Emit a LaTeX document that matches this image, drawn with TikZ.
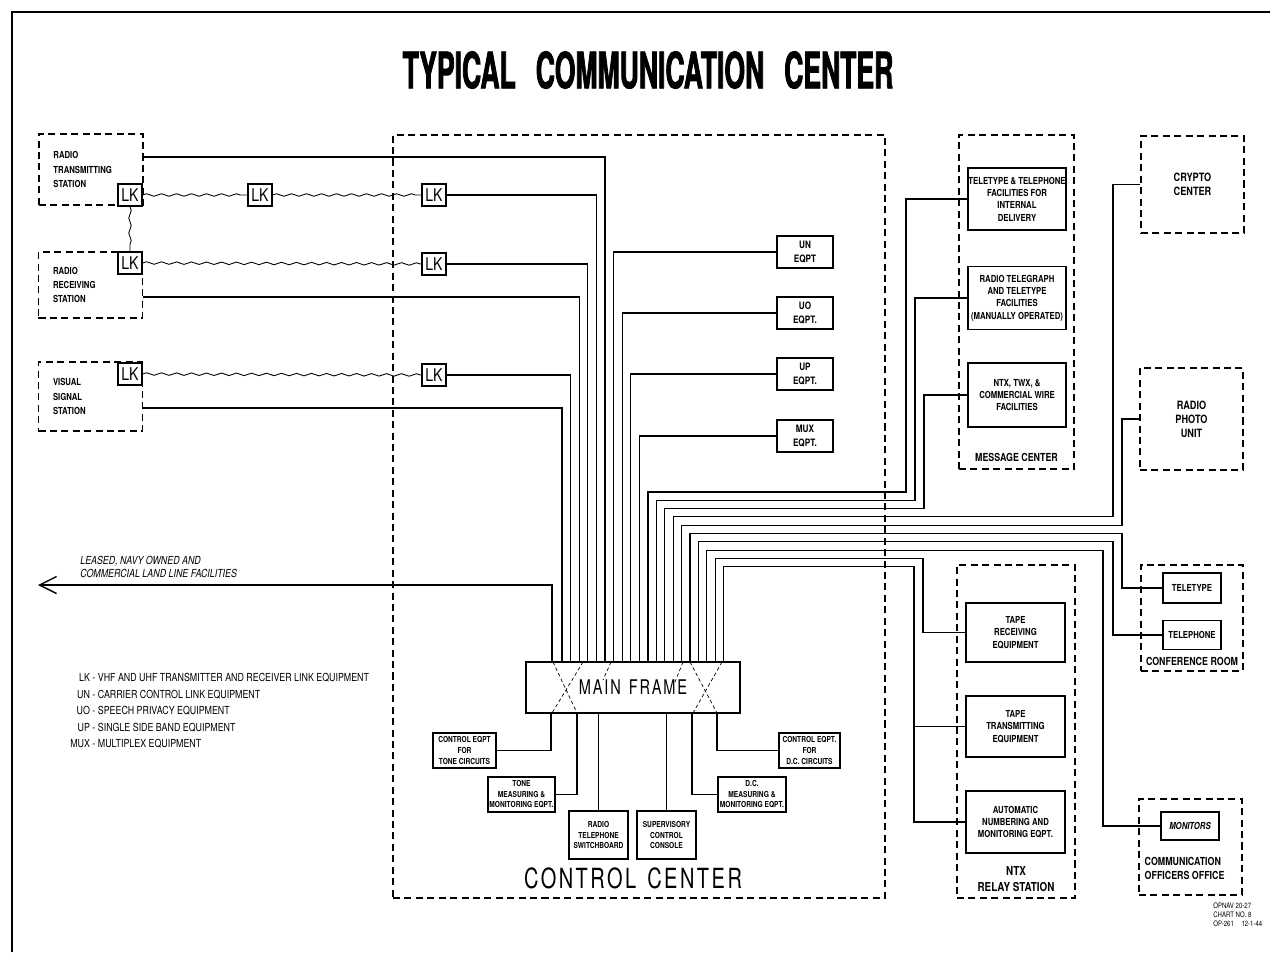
\documentclass[tikz,border=0pt]{standalone}
\usepackage{fontspec}
\usetikzlibrary{arrows.meta,positioning,calc,decorations.pathmorphing}
\newfontfamily\letterfont{TeX Gyre Heros}[FakeStretch=0.8]
\newfontfamily\spacedfont{TeX Gyre Heros}[FakeStretch=0.72,LetterSpace=9]
\newfontfamily\headfont{TeX Gyre Heros}[FakeStretch=0.53,FakeBold=1.5]

\begin{document}
\begin{tikzpicture}[
  x=0.2mm, y=-0.2mm,
  wire/.style={line width=0.6pt},
  radiolink/.style={line width=0.5pt, decorate,
    decoration={zigzag, segment length=3mm, amplitude=0.25mm}},
  xconn/.style={line width=0.4pt, dash pattern=on 2pt off 1.5pt},
  zone/.style={draw, dash pattern=on 4pt off 2.5pt, line width=0.7pt,
    inner sep=0pt, align=center, font=\letterfont\bfseries\fontsize{6.5}{8}\selectfont},
  stationbox/.style={zone, align=left, text width=15mm, minimum width=20.8mm,
    font=\letterfont\bfseries\fontsize{5.5}{8}\selectfont},
  eqpt/.style={draw, line width=0.9pt, fill=white, inner sep=0pt, align=center,
    font=\letterfont\bfseries\fontsize{5.5}{7}\selectfont},
  eqptbox/.style={eqpt, minimum width=11.2mm, minimum height=6.4mm,
    font=\letterfont\bfseries\fontsize{5.8}{7.5}\selectfont},
  minorbox/.style={eqpt, font=\letterfont\bfseries\fontsize{4.7}{6}\selectfont},
  lkbox/.style={draw, line width=0.9pt, fill=white, inner sep=0pt,
    minimum width=4.8mm, minimum height=4.4mm, font=\letterfont\fontsize{10}{10}\selectfont},
  zonetext/.style={inner sep=0pt, align=center, font=\letterfont\bfseries\fontsize{6.3}{8}\selectfont},
]
  \useasboundingbox (0,0) rectangle (1270,952);

  % sheet border and title
  \draw[line width=1.2pt] (12,952) -- (12,12) -- (1270,12);
  \node[inner sep=0pt, font=\headfont\bfseries\fontsize{28.5}{30}\selectfont] (title) at (648,70)
    {TYPICAL\hspace{4mm}COMMUNICATION\hspace{4mm}CENTER};

  % outlying stations
  \node[stationbox, minimum height=14.2mm] (txst) at (91,169.5) {RADIO\\TRANSMITTING\\STATION};
  \node[stationbox, minimum height=13.2mm] (rxst) at (90.5,285) {RADIO\\RECEIVING\\STATION};
  \node[stationbox, minimum height=13.8mm] (vsst) at (90.5,396.5) {VISUAL\\SIGNAL\\STATION};
  \coordinate (txout) at ([yshift=2.5mm]txst.east);
  \coordinate (rxout) at ([yshift=-2.4mm]rxst.east);
  \coordinate (vsout) at ([yshift=-2.3mm]vsst.east);

  % control center
  \node[zone, minimum width=98.4mm, minimum height=152.6mm] (ctrl) at (639,516.5) {};
  \node[inner sep=0pt, font=\spacedfont\fontsize{15.8}{16}\selectfont] (ctrllbl) at (633,878) {CONTROL\hspace{2.2mm}CENTER};

  % link equipment
  \node[lkbox] (lka) at (130,195) {LK};
  \node[lkbox] (lkb) at (260,195) {LK};
  \node[lkbox] (lkc) at (434,195) {LK};
  \node[lkbox] (lkd) at (130,263) {LK};
  \node[lkbox] (lke) at (434,264) {LK};
  \node[lkbox] (lkf) at (130,374) {LK};
  \node[lkbox] (lkg) at (434,375) {LK};

  \draw[radiolink] (lka.east) -- (lkb.west);
  \draw[radiolink] (lkb.east) -- (lkc.west);
  \draw[radiolink] (lka.south) -- (lkd.north);
  \draw[radiolink] (lkd.east) -- (lke.west);
  \draw[radiolink] (lkf.east) -- (lkg.west);

  % carrier equipment
  \node[eqptbox] (un)  at (805,252) {UN\\EQPT};
  \node[eqptbox] (uo)  at (805,313) {UO\\EQPT.};
  \node[eqptbox] (up)  at (805,374) {UP\\EQPT.};
  \node[eqptbox] (mux) at (805,436) {MUX\\EQPT.};

  % main frame
  \node[eqpt, minimum width=42.8mm, minimum height=10.2mm,
    font=\spacedfont\fontsize{11.5}{12}\selectfont] (mframe) at (633,687.5) {MAIN\hspace{1.6mm}FRAME};
  \draw[xconn] (553,662) -- (577,713);
  \draw[xconn] (583,662) -- (552,713);
  \draw[xconn] (611,662) -- (603,680);
  \draw[xconn] (690,662) -- (717,713);
  \draw[xconn] (722,662) -- (693,713);
  \draw[xconn] (683,662) -- (675,682);

  \foreach \i in {0,...,9} {
    \coordinate (L\i) at (562+8.6*\i,662);
    \coordinate (R\i) at (648+8.4*\i,662);
  }

  % lines into the main frame from the left
  \draw[wire] (vsout) -| (L0);
  \draw[wire] (lkg.east) -| (L1);
  \draw[wire] (rxout) -| (L2);
  \draw[wire] (lke.east) -| (L3);
  \draw[wire] (lkc.east) -| (L4);
  \draw[wire] (txout) -| (L5);
  \draw[wire] (un.west) -| (L6);
  \draw[wire] (uo.west) -| (L7);
  \draw[wire] (up.west) -| (L8);
  \draw[wire] (mux.west) -| (L9);

  % leased lines
  \coordinate (lease) at (552,662);
  \coordinate (leaseend) at (38,585);
  \draw[wire, -{Straight Barb[length=3.4mm, width=3.4mm, line width=0.8pt]}] (lease) |- (leaseend);
  \node[inner sep=0pt, align=left, anchor=south west,
    font=\letterfont\itshape\fontsize{6.3}{7.5}\selectfont] (leaselbl) at (80,578)
    {LEASED, NAVY OWNED AND\\COMMERCIAL LAND LINE FACILITIES};

  % control center consoles
  \node[minorbox, minimum width=12.6mm, minimum height=7mm] (cttone) at (464.5,750.5) {CONTROL EQPT\\FOR\\TONE CIRCUITS};
  \node[minorbox, minimum width=13.4mm, minimum height=7mm] (tonem) at (521.5,794.5) {TONE\\MEASURING \&\\MONITORING EQPT.};
  \node[minorbox, minimum width=11.8mm, minimum height=9.6mm] (rtsw) at (598.5,835) {RADIO\\TELEPHONE\\SWITCHBOARD};
  \node[minorbox, minimum width=11.8mm, minimum height=9.6mm] (supcc) at (666.5,835) {SUPERVISORY\\CONTROL\\CONSOLE};
  \node[minorbox, minimum width=13.6mm, minimum height=7mm] (dcm) at (752,794.5) {D.C.\\MEASURING \&\\MONITORING EQPT.};
  \node[minorbox, minimum width=12.2mm, minimum height=7mm] (ctdc) at (809.5,750.5) {CONTROL EQPT.\\FOR\\D.C. CIRCUITS};

  \coordinate (B1) at (551,713);
  \coordinate (B2) at (577,713);
  \coordinate (B5) at (692,713);
  \coordinate (B6) at (717,713);
  \draw[wire] (cttone.east) -| (B1);
  \draw[wire] (tonem.east) -| (B2);
  \draw[wire] (rtsw.north) -- (rtsw.north |- mframe.south);
  \draw[wire] (supcc.north) -- (supcc.north |- mframe.south);
  \draw[wire] (dcm.west) -| (B5);
  \draw[wire] (ctdc.west) -| (B6);

  % message center
  \node[zone, minimum width=23mm, minimum height=66.8mm] (msgc) at (1016.5,302) {};
  \node[zonetext, above=1.5mm of msgc.south] (msglbl) {MESSAGE CENTER};
  \node[eqpt, minimum width=19.6mm, minimum height=12.4mm] (ttdel) at (1017,199)
    {TELETYPE \& TELEPHONE\\FACILITIES FOR\\INTERNAL\\DELIVERY};
  \node[eqpt, minimum width=19.6mm, minimum height=12.6mm] (rtel) at (1017,298)
    {RADIO TELEGRAPH\\AND TELETYPE\\FACILITIES\\(MANUALLY OPERATED)};
  \node[eqpt, minimum width=19.6mm, minimum height=12.8mm] (ntxf) at (1017,395)
    {NTX, TWX, \&\\COMMERCIAL WIRE\\FACILITIES};

  % crypto and radio photo
  \node[zone, minimum width=20.6mm, minimum height=19.4mm] (crypto) at (1192.5,184.5) {CRYPTO\\CENTER};
  \node[zone, minimum width=20.6mm, minimum height=20.4mm] (rphoto) at (1191.5,419) {RADIO\\PHOTO\\UNIT};

  % conference room and officers office
  \node[zone, minimum width=20.4mm, minimum height=21.2mm] (confr) at (1192,618) {};
  \node[zonetext, above=1.2mm of confr.south] (conflbl) {CONFERENCE ROOM};
  \node[eqpt, minimum width=11.6mm, minimum height=6mm] (conftt) at (1192,588) {TELETYPE};
  \node[eqpt, minimum width=11.6mm, minimum height=5.8mm] (conftel) at (1192,635) {TELEPHONE};

  \node[zone, minimum width=20.6mm, minimum height=19.2mm] (offc) at (1190.5,847) {};
  \node[zonetext, align=left, anchor=south west] (offclbl)
    at ([shift={(1.2mm,3.2mm)}]offc.south west) {COMMUNICATION\\OFFICERS OFFICE};
  \node[eqpt, minimum width=11.6mm, minimum height=5.6mm] (mon) at (1190,826) {\itshape MONITORS};

  % NTX relay station
  \node[zone, minimum width=23.6mm, minimum height=66.6mm] (relay) at (1016,731.5) {};
  \node[zonetext, font=\letterfont\bfseries\fontsize{7}{9}\selectfont,
    above=1.4mm of relay.south] (relaylbl) {NTX\\RELAY STATION};
  \node[eqpt, minimum width=19.8mm, minimum height=11.8mm] (taperx) at (1015.5,632.5) {TAPE\\RECEIVING\\EQUIPMENT};
  \node[eqpt, minimum width=19.8mm, minimum height=12.2mm] (tapetx) at (1015.5,726.5) {TAPE\\TRANSMITTING\\EQUIPMENT};
  \node[eqpt, minimum width=19.8mm, minimum height=12.4mm] (autonum) at (1015.5,822) {AUTOMATIC\\NUMBERING AND\\MONITORING EQPT.};

  % lines out of the main frame to the right
  \coordinate (k0) at (906,492);
  \coordinate (k1) at (915,500.3);
  \coordinate (k2) at (924,508.6);
  \coordinate (k3) at (1113,516.9);
  \coordinate (k4) at (1122,525.2);
  \coordinate (k5) at (1122,533.5);
  \coordinate (k6) at (1113,541.8);
  \coordinate (k7) at (1103,550.1);
  \coordinate (k8) at (923,558.4);
  \coordinate (k9) at (914,566.7);

  \draw[wire] (R0) |- (k0) |- (ttdel.west);
  \draw[wire] (R1) |- (k1) |- (rtel.west);
  \draw[wire] (R2) |- (k2) |- (ntxf.west);
  \draw[wire] (R3) |- (k3) |- (crypto.west);
  \draw[wire] (R4) |- (k4) |- (rphoto.west);
  \draw[wire] (R5) |- (k5) |- (conftt.west);
  \draw[wire] (R6) |- (k6) |- (conftel.west);
  \draw[wire] (R7) |- (k7) |- (mon.west);
  \draw[wire] (R8) |- (k8) |- (taperx.west);
  \draw[wire] (R9) |- (k9) |- (autonum.west);
  \draw[wire] (k9 |- tapetx.west) -- (tapetx.west);

  % legend
  \node[anchor=north west, inner sep=0pt, font=\letterfont\fontsize{6.3}{9.4}\selectfont] (legend) at (70,670) {%
    \begin{tabular}{@{}r@{ - }l@{}}
      LK & VHF AND UHF TRANSMITTER AND RECEIVER LINK EQUIPMENT\\
      UN & CARRIER CONTROL LINK EQUIPMENT\\
      UO & SPEECH PRIVACY EQUIPMENT\\
      UP & SINGLE SIDE BAND EQUIPMENT\\
      MUX & MULTIPLEX EQUIPMENT
    \end{tabular}};

  % chart number
  \node[anchor=north west, inner sep=0pt, align=left, font=\letterfont\fontsize{4.3}{5.2}\selectfont] (chartno)
    at (1213,902) {OPNAV 20-27\\CHART NO. 8\\OP-261\quad 12-1-44};

\end{tikzpicture}
\end{document}
